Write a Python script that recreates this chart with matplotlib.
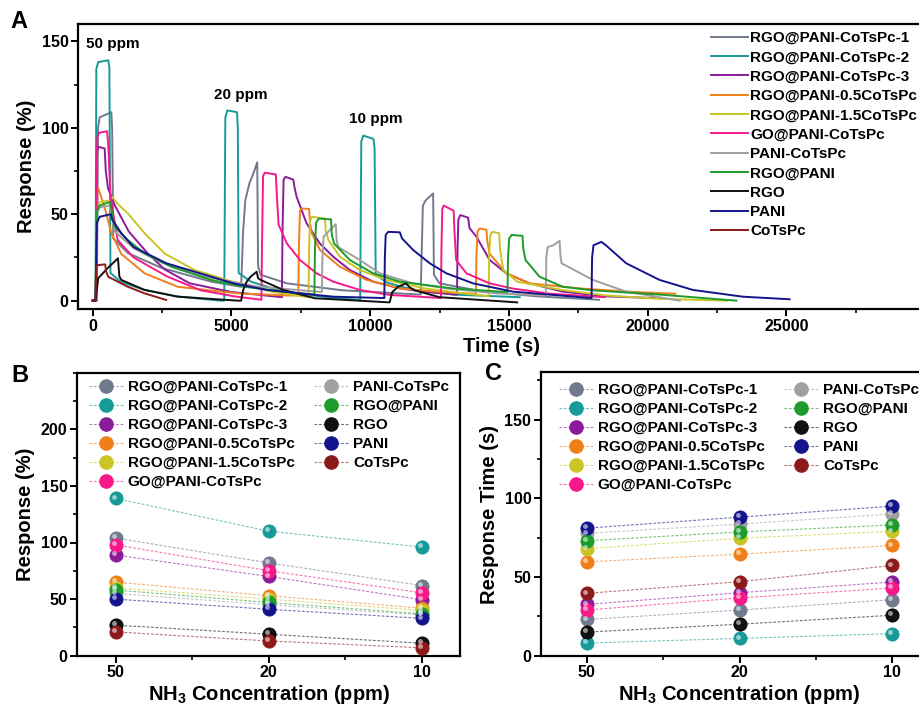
import numpy as np
import matplotlib
matplotlib.use("Agg")
import matplotlib.pyplot as plt
from matplotlib.colors import to_rgba
from matplotlib.ticker import MultipleLocator, FixedLocator
from matplotlib.transforms import offset_copy

plt.rcParams["font.family"] = ["Liberation Sans", "DejaVu Sans"]
plt.rcParams["font.weight"] = "bold"
plt.rcParams["axes.labelweight"] = "bold"
plt.rcParams["mathtext.fontset"] = "custom"
plt.rcParams["mathtext.bf"] = "Liberation Sans:bold"
plt.rcParams["mathtext.rm"] = "Liberation Sans:bold"

# ---- amostras e cores ----
amostras = [
    "RGO@PANI-CoTsPc-1", "RGO@PANI-CoTsPc-2", "RGO@PANI-CoTsPc-3",
    "RGO@PANI-0.5CoTsPc", "RGO@PANI-1.5CoTsPc", "GO@PANI-CoTsPc",
    "PANI-CoTsPc", "RGO@PANI", "RGO", "PANI", "CoTsPc",
]
cores = [
    "#707a8c", "#169b98", "#8a1c9a", "#f07f1a", "#c9c524", "#f7198a",
    "#a0a0a0", "#1d9b2b", "#111111", "#14148c", "#8c1a1a",
]

# ---- painel A: curvas de resposta ----
t_rgo_pani_cotspc_1 = [0, 150, 190, 250, 670, 700, 740, 1270, 2470, 4270, 5350, 5420, 5500, 5650, 5800, 5930,
                       5960, 6050, 7000, 9000, 11820, 11900, 12000, 12270, 12300, 12500, 14000, 16000, 18250]
r_rgo_pani_cotspc_1 = [0, 0, 100, 106, 109, 100, 36, 27.5, 19, 11, 8, 40, 58, 68, 74, 80,
                       20, 15, 10, 6, 3.5, 55, 58, 62, 15, 10, 5.5, 2.5, 0.5]

t_rgo_pani_cotspc_2 = [0, 100, 130, 200, 560, 600, 640, 1000, 1800, 3000, 4600, 4740, 4780, 4850, 5200, 5230,
                       5260, 5700, 6900, 8700, 9640, 9680, 9750, 10120, 10160, 10200, 10600, 11500, 13000, 15390]
r_rgo_pani_cotspc_2 = [0, 0, 134, 138, 139, 135, 16, 11, 6.5, 2.5, 0, 0, 106, 110, 109, 100,
                       16, 11, 5, 1.5, 0.4, 92, 95.5, 93.5, 88, 15, 10.5, 6.5, 3.5, 2]

t_rgo_pani_cotspc_3 = [0, 120, 150, 200, 430, 470, 550, 800, 1300, 2000, 2600, 3500, 5000, 6820, 6840, 6880,
                       6950, 7230, 7280, 7350, 7710, 8190, 8670, 9270, 10110, 11070, 12000, 13130, 13150,
                       13180, 13250, 13530, 13580, 13830, 14310, 14910, 15750, 16940, 18500, 20260]
r_rgo_pani_cotspc_3 = [0, 0, 85, 89, 88, 75, 65, 55, 40, 27, 18, 10, 5, 2, 40, 70,
                       71.6, 70, 65, 60, 44.7, 33, 25.4, 17.7, 11, 7.1, 5, 3.5, 30,
                       47, 49.5, 48, 42, 37, 23.5, 15.8, 10, 5.2, 2.5, 1.5]

t_rgo_pani_05 = [0, 100, 150, 200, 430, 670, 1030, 1870, 3070, 5230, 7000, 7410, 7430, 7470, 7550, 7800,
                 7830, 7900, 8190, 8910, 9870, 11070, 12500, 13810, 13830, 13870, 13950, 14190, 14220,
                 14300, 14910, 15750, 17550, 19500, 21000]
r_rgo_pani_05 = [0, 0, 62, 65, 54, 39, 27, 15.8, 8, 4.2, 3, 3, 30, 52, 53.3, 53,
                 45, 38.9, 29.3, 19.6, 12, 7.1, 5, 4, 25, 40, 41.8, 41, 35,
                 27.3, 15.8, 10, 7.1, 5, 4]

t_rgo_pani_15 = [0, 100, 150, 250, 650, 700, 900, 1270, 1870, 2590, 3670, 5230, 6500, 7780, 7800, 7830,
                 7900, 8370, 8400, 8500, 8910, 9630, 10590, 12000, 14270, 14290, 14330, 14400, 14650,
                 14680, 14800, 15300, 16900, 18500, 20500, 22860]
r_rgo_pani_15 = [0, 0, 52, 57, 58, 60, 56, 50.4, 39, 27.3, 17.7, 10, 5, 2, 30, 46,
                 48.5, 47.5, 40, 35, 25.4, 17.7, 12, 7, 2.5, 25, 38, 39.8, 39,
                 30, 17.7, 11, 6.2, 3, 1, 0]

t_go_pani_cotspc = [0, 120, 160, 220, 520, 560, 640, 900, 1470, 2680, 3890, 5100, 6080, 6100, 6140, 6200,
                    6600, 6640, 6700, 7000, 7470, 8070, 8670, 9630, 10710, 12550, 12570, 12600, 12650,
                    13010, 13040, 13100, 13470, 14310, 15140, 16500, 18460]
r_go_pani_cotspc = [0, 0, 94, 97, 98, 90, 60, 35, 25, 14, 6, 2.5, 0.5, 30, 72, 74,
                    73, 60, 44, 33, 23.5, 15.8, 11, 6.2, 3.3, 1.5, 30, 53, 55,
                    52, 40, 23.5, 15.8, 10, 7, 4, 2]

t_pani_cotspc = [0, 100, 150, 250, 600, 650, 800, 1500, 2500, 4000, 6000, 8260, 8280, 8320, 8500, 8760,
                 8790, 8850, 9630, 10350, 11540, 12750, 14550, 16330, 16350, 16400, 16600, 16830, 16860,
                 16900, 18030, 19230, 21160]
r_pani_cotspc = [0, 0, 50, 54, 55, 52, 40, 30, 22, 14, 8, 5, 25, 37, 40, 44.3,
                 35, 31, 23.5, 15.8, 10, 7.1, 4.2, 3, 25, 31, 32, 34.6, 26,
                 21.6, 12, 5.2, 0]

t_rgo_pani = [0, 100, 150, 250, 600, 650, 790, 1270, 1870, 2830, 4270, 5470, 7000, 7990, 8010, 8050,
              8150, 8590, 8620, 8700, 9270, 10110, 11070, 13000, 14950, 14970, 15010, 15100, 15490,
              15520, 15600, 16110, 16950, 18000, 20440, 23200]
r_rgo_pani = [0, 0, 52, 55, 57, 55, 42.7, 35, 27.3, 19.6, 12, 8, 5, 3.5, 30, 45,
              47.5, 47, 38, 33, 23.5, 15.8, 11, 7, 5, 25, 36, 38, 37.5,
              30, 23.5, 13.8, 8, 6, 3.5, 0]

t_rgo = [0, 100, 200, 550, 910, 960, 1030, 1870, 3070, 5230, 5350, 5420, 5550, 5700, 5910, 5960, 6050,
         6870, 8000, 10700, 10800, 11000, 11300, 11400, 11600, 12500, 15300]
r_rgo = [0, 0, 13, 19, 24.5, 14, 12, 6.2, 2.3, 0, 0, 6, 11, 14, 16.7, 13, 12,
         6.2, 1.4, -1, 5, 8, 10, 8, 6, 2, -1]

t_pani = [0, 100, 150, 250, 650, 700, 1030, 1470, 2660, 3870, 5070, 6270, 8670, 10510, 10530, 10560,
          10650, 11070, 11150, 11550, 12150, 12750, 13710, 15150, 17980, 18000, 18050, 18330, 18500,
          19230, 20430, 21630, 23430, 25120]
r_pani = [0, 0, 45, 48.5, 50, 47, 39, 31, 21.6, 15.8, 10, 6.2, 2.3, 1.5, 25, 38,
          39.8, 39.5, 36, 29.3, 21.6, 15.8, 10, 5.2, 1.5, 25, 32, 34, 32,
          21.6, 12, 6.2, 2.3, 0.8]

t_cotspc = [0, 100, 130, 200, 450, 480, 560, 1270, 1870, 2650]
r_cotspc = [0, 0, 20, 20.6, 21, 17, 13.8, 8, 4.2, 0.4]

curvas_t = [t_rgo_pani_cotspc_1, t_rgo_pani_cotspc_2, t_rgo_pani_cotspc_3, t_rgo_pani_05, t_rgo_pani_15,
            t_go_pani_cotspc, t_pani_cotspc, t_rgo_pani, t_rgo, t_pani, t_cotspc]
curvas_r = [r_rgo_pani_cotspc_1, r_rgo_pani_cotspc_2, r_rgo_pani_cotspc_3, r_rgo_pani_05, r_rgo_pani_15,
            r_go_pani_cotspc, r_pani_cotspc, r_rgo_pani, r_rgo, r_pani, r_cotspc]

# ---- paineis B e C ----
concentracoes = ["50", "20", "10"]
resposta = [
    [104, 82, 62], [139, 110, 96], [89, 70, 49.5], [65, 53, 42], [60, 50, 40], [98, 75, 55.6],
    [55, 45, 36], [58, 47, 37], [27, 19, 11], [50, 41, 33], [21, 13, 7],
]
tempo_resposta = [
    [23, 29, 35.6], [8, 11, 14], [32.6, 40, 46.8], [59.6, 64.5, 70], [68, 74.6, 79], [29, 36.7, 43],
    [77.7, 83.6, 90], [73, 78.6, 83], [15, 20, 25.7], [81, 88, 95], [39.6, 47, 57.3],
]

W, H = 919, 709
fig = plt.figure(figsize=(W / 100, H / 100), dpi=100)


def eixo(l, r, t, b):
    return fig.add_axes([l / W, 1 - b / H, (r - l) / W, (b - t) / H])


def estilo(ax):
    for s in ax.spines.values():
        s.set_linewidth(1.6)
    ax.tick_params(which="major", direction="out", length=5, width=1.4, labelsize=11.5, pad=2)
    ax.tick_params(which="minor", direction="out", length=3, width=1.2)
    for lb in ax.get_xticklabels() + ax.get_yticklabels():
        lb.set_fontweight("bold")


# painel A
axA = eixo(78.3, 925, 24, 309.3)
for tt, rr, c, nome in zip(curvas_t, curvas_r, cores, amostras):
    axA.plot(tt, rr, color=c, lw=1.4, label=nome)
axA.set_xlim(-520, 30000)
axA.set_ylim(-5, 160)
axA.xaxis.set_major_locator(FixedLocator([0, 5000, 10000, 15000, 20000, 25000]))
axA.xaxis.set_minor_locator(MultipleLocator(2500))
axA.yaxis.set_major_locator(FixedLocator([0, 50, 100, 150]))
axA.yaxis.set_minor_locator(MultipleLocator(25))
estilo(axA)
axA.set_xlabel("Time (s)", fontsize=14.5, labelpad=2)
axA.set_ylabel("Response (%)", fontsize=14.5, labelpad=4)
axA.text(713, 148.5, "50 ppm", ha="center", va="center", fontsize=11, fontweight="bold")
axA.text(5350, 119, "20 ppm", ha="center", va="center", fontsize=11, fontweight="bold")
axA.text(10210, 105, "10 ppm", ha="center", va="center", fontsize=11, fontweight="bold")
axA.legend(loc="upper left", bbox_to_anchor=(711 / W, 1 - 31 / H), bbox_transform=fig.transFigure,
           frameon=False, fontsize=11, handlelength=2.4, handletextpad=0.15, labelspacing=0.35,
           borderpad=0, borderaxespad=0)


def bolas(ax, vals, cor, nome):
    x = np.arange(len(vals))
    ax.plot(x, vals, linestyle=(0, (2.5, 1.5)), lw=0.8, color=cor, alpha=0.6)
    ax.plot(x, vals, linestyle="none", marker="o", markersize=9.5, mfc=cor,
            mec="#000000" if cor == "#111111" else cor, mew=0.6, zorder=3)
    brilho = offset_copy(ax.transData, fig=fig, x=-1.3, y=1.3, units="points")
    ax.plot(x, vals, linestyle="none", marker="o", markersize=3.5, mfc="white", mec="none",
            alpha=0.55, transform=brilho, zorder=4)
    # entrada da legenda
    ax.plot([], [], linestyle=(0, (2.5, 1.5)), lw=0.8, color=to_rgba(cor, 0.6), marker="o",
            markersize=9.5, mfc=cor, mec=cor, label=nome)


def painel_bc(ax, dados, ylim, ymaj, ylabel, leg_x, leg_y):
    for vals, c, nome in zip(dados, cores, amostras):
        bolas(ax, vals, c, nome)
    ax.set_ylim(*ylim)
    ax.xaxis.set_major_locator(FixedLocator([0, 1, 2]))
    ax.set_xticklabels(concentracoes)
    ax.xaxis.set_minor_locator(FixedLocator([0.5, 1.5]))
    ax.yaxis.set_major_locator(FixedLocator(ymaj))
    ax.yaxis.set_minor_locator(MultipleLocator(25))
    estilo(ax)
    ax.set_xlabel(r"NH$_\mathbf{3}$ Concentration (ppm)", fontsize=14.5, labelpad=2)
    ax.set_ylabel(ylabel, fontsize=14.5, labelpad=4)
    ax.legend(loc="upper left", bbox_to_anchor=(leg_x / W, 1 - leg_y / H), bbox_transform=fig.transFigure,
              ncol=2, frameon=False, fontsize=11, handlelength=2.2, handletextpad=0.33,
              labelspacing=0.33, columnspacing=1.3, borderpad=0, borderaxespad=0)


axB = eixo(77.3, 460, 372.7, 655.7)
axB.set_xlim(-0.25, 2.25)
painel_bc(axB, resposta, (0, 250), [0, 50, 100, 150, 200], "Response (%)", 89, 380)

axC = eixo(541, 938, 372.3, 655.7)
axC.set_xlim(-0.3, 2.3)
painel_bc(axC, tempo_resposta, (0, 180), [0, 50, 100, 150], "Response Time (s)", 559, 383)

fig.text(19 / W, 1 - 22 / H, "A", fontsize=17, fontweight="bold", ha="center", va="center")
fig.text(20 / W, 1 - 376 / H, "B", fontsize=17, fontweight="bold", ha="center", va="center")
fig.text(493 / W, 1 - 374 / H, "C", fontsize=17, fontweight="bold", ha="center", va="center")

fig.savefig("out.png", dpi=100)
